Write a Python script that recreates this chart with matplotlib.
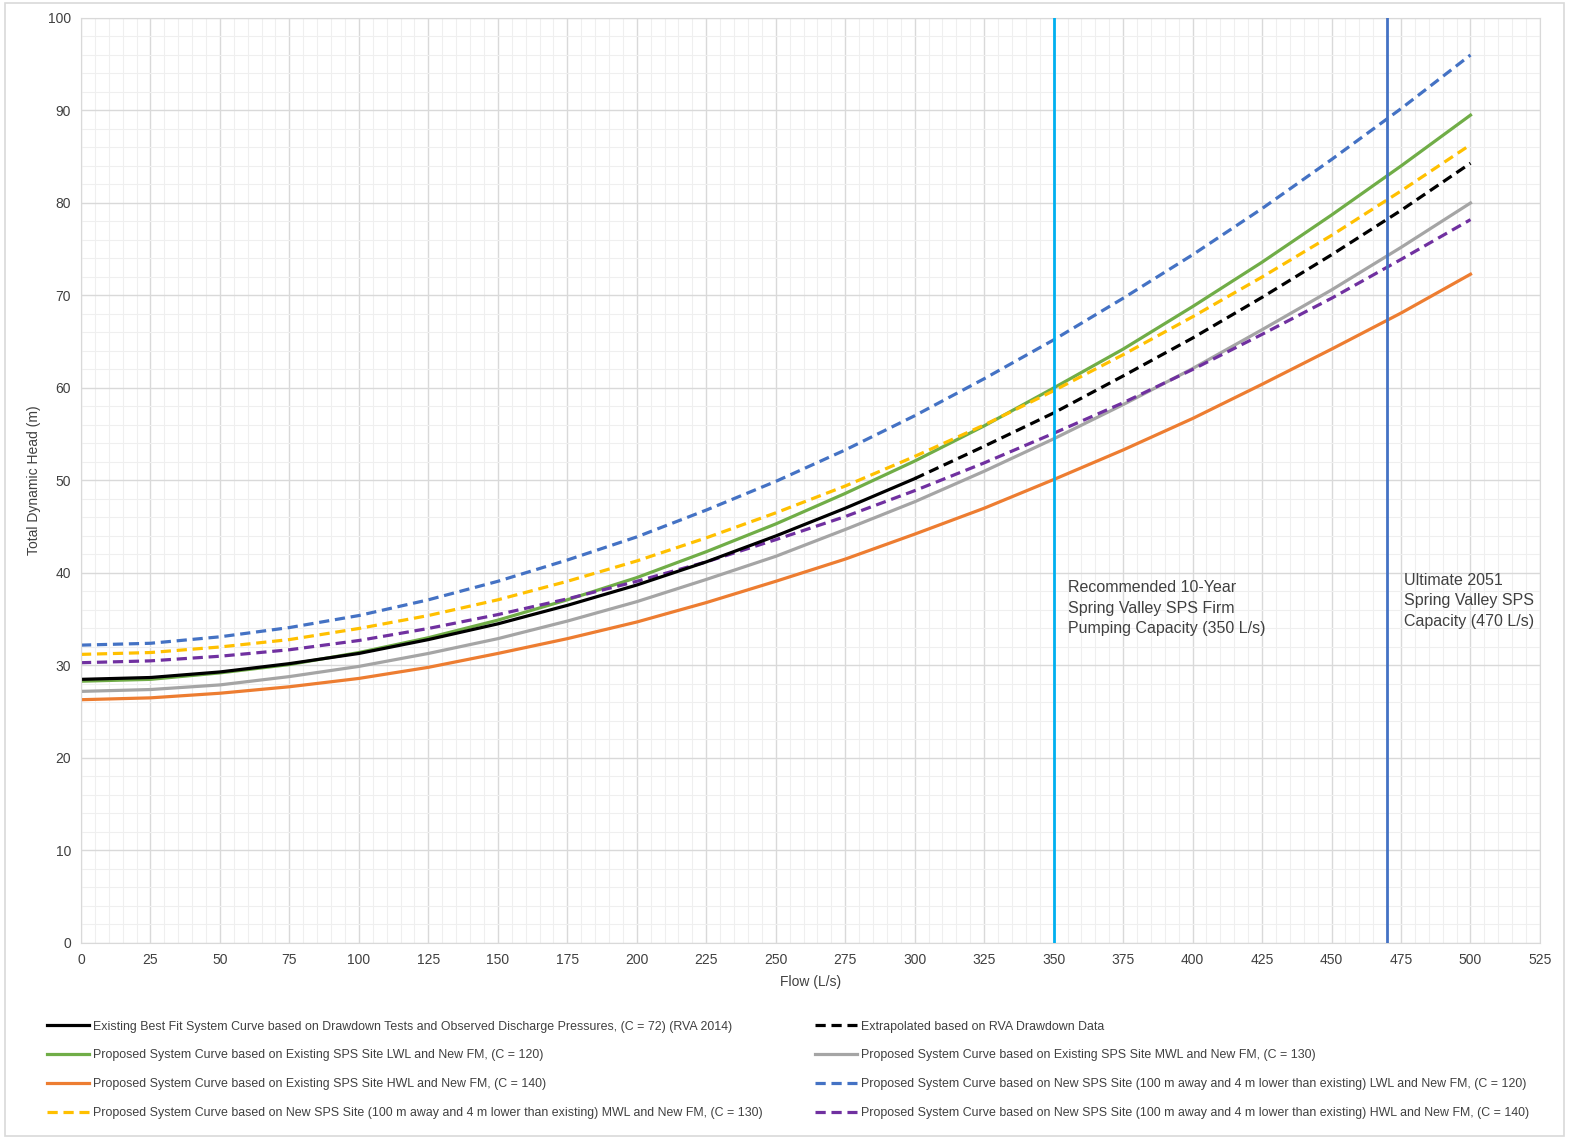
import numpy as np
import matplotlib
matplotlib.use("Agg")
import matplotlib.pyplot as plt
from matplotlib.patches import Rectangle
from matplotlib.ticker import MultipleLocator

plt.rcParams['font.family'] = ['Liberation Sans', 'DejaVu Sans']

flow = [0, 25, 50, 75, 100, 125, 150, 175, 200, 225, 250, 275, 300,
        325, 350, 375, 400, 425, 450, 475, 500]

existing = [28.5, 28.7, 29.3, 30.2, 31.3, 32.8, 34.5, 36.5, 38.7, 41.2, 44.0, 47.0, 50.2]
extrap_flow = [300, 325, 350, 375, 400, 425, 450, 475, 500]
extrap = [50.2, 53.7, 57.3, 61.3, 65.4, 69.8, 74.4, 79.2, 84.3]

lwl_120 = [28.3, 28.5, 29.2, 30.1, 31.4, 33.0, 34.9, 37.1, 39.5, 42.3, 45.3, 48.6, 52.1,
           55.9, 60.0, 64.2, 68.8, 73.6, 78.7, 84.0, 89.5]
mwl_130 = [27.2, 27.4, 27.9, 28.8, 29.9, 31.3, 32.9, 34.8, 36.9, 39.3, 41.8, 44.7, 47.7,
           51.0, 54.5, 58.2, 62.1, 66.3, 70.6, 75.2, 80.0]
hwl_140 = [26.3, 26.5, 27.0, 27.7, 28.6, 29.8, 31.3, 32.9, 34.7, 36.8, 39.1, 41.5, 44.2,
           47.0, 50.1, 53.3, 56.7, 60.4, 64.2, 68.1, 72.3]
new_lwl_120 = [32.2, 32.4, 33.1, 34.1, 35.4, 37.1, 39.1, 41.4, 43.9, 46.8, 49.9, 53.3, 57.0,
               61.0, 65.2, 69.7, 74.4, 79.4, 84.7, 90.2, 96.0]
new_mwl_130 = [31.2, 31.4, 32.0, 32.8, 34.0, 35.4, 37.1, 39.1, 41.3, 43.8, 46.5, 49.4, 52.6,
               56.0, 59.7, 63.6, 67.7, 72.0, 76.5, 81.3, 86.3]
new_hwl_140 = [30.3, 30.5, 31.0, 31.7, 32.7, 34.0, 35.5, 37.2, 39.1, 41.2, 43.6, 46.1, 48.9,
               51.9, 55.1, 58.4, 62.0, 65.8, 69.7, 73.9, 78.2]

lab_existing = "Existing Best Fit System Curve based on Drawdown Tests and Observed Discharge Pressures, (C = 72) (RVA 2014)"
lab_extrap = "Extrapolated based on RVA Drawdown Data"
lab_lwl = "Proposed System Curve based on Existing SPS Site LWL and New FM, (C = 120)"
lab_mwl = "Proposed System Curve based on Existing SPS Site MWL and New FM, (C = 130)"
lab_hwl = "Proposed System Curve based on Existing SPS Site HWL and New FM, (C = 140)"
lab_new_lwl = "Proposed System Curve based on New SPS Site (100 m away and 4 m lower than existing) LWL and New FM, (C = 120)"
lab_new_mwl = "Proposed System Curve based on New SPS Site (100 m away and 4 m lower than existing) MWL and New FM, (C = 130)"
lab_new_hwl = "Proposed System Curve based on New SPS Site (100 m away and 4 m lower than existing) HWL and New FM, (C = 140)"

fig = plt.figure(figsize=(15.69, 11.39), dpi=100)
ax = fig.add_axes([0.0516, 0.1721, 0.9299, 0.8121])

lw = 2.3
dash = (3.2, 1.8)

ax.axvline(350, color='#00B0F0', lw=2.0, zorder=3)
ax.axvline(470, color='#4472C4', lw=2.0, zorder=3)

l_new_lwl, = ax.plot(flow, new_lwl_120, color='#4472C4', lw=lw, ls=(0, dash), label=lab_new_lwl)
l_lwl, = ax.plot(flow, lwl_120, color='#70AD47', lw=lw, label=lab_lwl)
l_new_mwl, = ax.plot(flow, new_mwl_130, color='#FFC000', lw=lw, ls=(0, dash), label=lab_new_mwl)
l_ext, = ax.plot(extrap_flow, extrap, color='black', lw=lw, ls=(0, dash), label=lab_extrap)
l_mwl, = ax.plot(flow, mwl_130, color='#A5A5A5', lw=lw, label=lab_mwl)
l_new_hwl, = ax.plot(flow, new_hwl_140, color='#7030A0', lw=lw, ls=(0, dash), label=lab_new_hwl)
l_hwl, = ax.plot(flow, hwl_140, color='#ED7D31', lw=lw, label=lab_hwl)
l_exist, = ax.plot(flow[:len(existing)], existing, color='black', lw=lw, label=lab_existing)

ax.set_xlim(0, 525)
ax.set_ylim(0, 100)
ax.xaxis.set_major_locator(MultipleLocator(25))
ax.xaxis.set_minor_locator(MultipleLocator(5))
ax.yaxis.set_major_locator(MultipleLocator(10))
ax.yaxis.set_minor_locator(MultipleLocator(2))
ax.grid(which='major', color='#D9D9D9', lw=1.0, zorder=0)
ax.grid(which='minor', color='#EFEFEF', lw=0.8, zorder=0)
ax.set_axisbelow(True)
ax.tick_params(which='both', length=0, labelsize=10, labelcolor='#404040', pad=7)
for s in ax.spines.values():
    s.set_color('#D9D9D9')

ax.set_xlabel('Flow (L/s)', fontsize=10, color='#404040', labelpad=6)
ax.set_ylabel('Total Dynamic Head (m)', fontsize=10, color='#404040', labelpad=5)

ax.text(355, 39.2, "Recommended 10-Year\nSpring Valley SPS Firm\nPumping Capacity (350 L/s)",
        fontsize=11.5, color='#404040', va='top', ha='left', linespacing=1.45)
ax.text(476, 40.0, "Ultimate 2051\nSpring Valley SPS\nCapacity (470 L/s)",
        fontsize=11.5, color='#404040', va='top', ha='left', linespacing=1.45)

leg_kw = dict(frameon=False, fontsize=8.9, handlelength=3.4, handletextpad=0.32,
              labelspacing=1.36, borderaxespad=0, borderpad=0)
leg1 = fig.legend(handles=[l_exist, l_lwl, l_hwl, l_new_mwl], loc='upper left',
                  bbox_to_anchor=(0.030, 0.1040), **leg_kw)
leg2 = fig.legend(handles=[l_ext, l_mwl, l_new_lwl, l_new_hwl], loc='upper left',
                  bbox_to_anchor=(0.5195, 0.1040), **leg_kw)
for lg in (leg1, leg2):
    for t in lg.get_texts():
        t.set_color('#404040')

fig.patches.append(Rectangle((0.003, 0.003), 0.994, 0.994, transform=fig.transFigure,
                             fill=False, edgecolor='#D9D9D9', lw=1.2))

fig.savefig('out.png', dpi=100)
